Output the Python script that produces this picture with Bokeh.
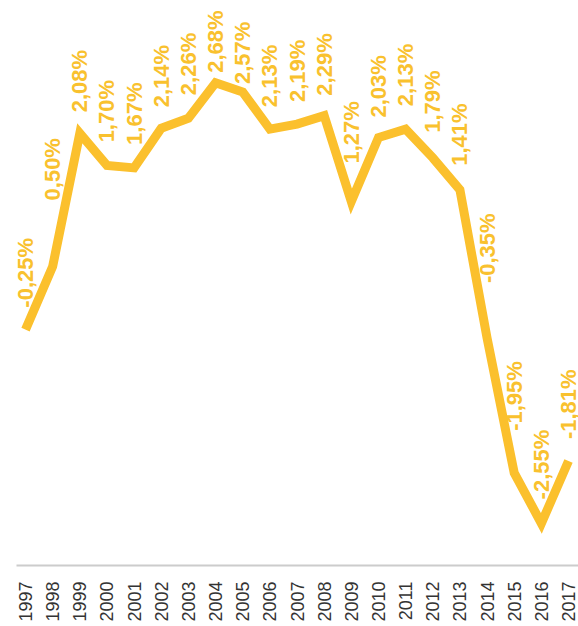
import math
from bokeh.plotting import figure
from bokeh.models import ColumnDataSource, FixedTicker, LabelSet
from bokeh.core.properties import value
from bokeh.embed import file_html
from bokeh.resources import INLINE

years = [1997, 1998, 1999, 2000, 2001, 2002, 2003, 2004, 2005, 2006, 2007,
         2008, 2009, 2010, 2011, 2012, 2013, 2014, 2015, 2016, 2017]
values = [-0.25, 0.50, 2.08, 1.70, 1.67, 2.14, 2.26, 2.68, 2.57, 2.13, 2.19,
          2.29, 1.27, 2.03, 2.13, 1.79, 1.41, -0.35, -1.95, -2.55, -1.81]
labels = [("%.2f%%" % v).replace(".", ",") for v in values]

# style: how far (screen px) each value label is lifted above its point,
# nudged so that labels stay clear of the steep segments
label_lift = [22, 66, 21, 23, 23, 21, 23, 10, 8, 22, 22,
              20, 38, 20, 23, 25, 24, 55, 42, 24, 22]

src = ColumnDataSource(dict(x=years, y=values, label=labels, lift=label_lift))

p = figure(width=578, height=624, output_backend="svg", toolbar_location=None,
           x_range=(1996.668, 2017.368), y_range=(-3.05, 3.562),
           min_border_left=16, min_border_right=0, min_border_top=8, min_border_bottom=54)
p.outline_line_color = None
p.xgrid.visible = False
p.ygrid.visible = False
p.yaxis.visible = False

ax = p.xaxis[0]
ax.ticker = FixedTicker(ticks=years)
ax.major_label_orientation = math.pi / 2
ax.major_label_text_font = "Liberation Sans"
ax.major_label_text_font_size = "18px"
ax.major_label_text_color = "#333333"
ax.major_label_standoff = 10
ax.axis_line_color = "#cccccc"
ax.axis_line_width = 2
ax.major_tick_line_color = None
ax.minor_tick_line_color = None

p.line("x", "y", source=src, line_color="#FBC02D", line_width=9, line_join="miter")

lbl = LabelSet(x="x", y="y", text="label", source=src, angle=math.pi / 2,
               text_align="left", text_baseline="middle", y_offset="lift",
               text_font=value("Liberation Sans"), text_font_size="22px",
               text_font_style="bold", text_color="#F9C12E")
p.add_layout(lbl)

open("out.html", "w").write(file_html(p, INLINE))
